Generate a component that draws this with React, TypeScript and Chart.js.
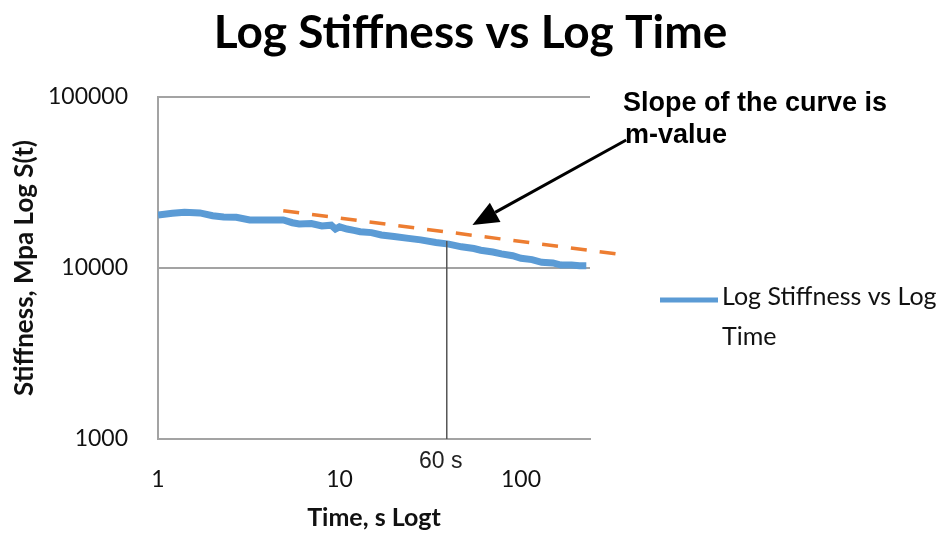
import React, { useEffect, useRef } from "react";
import { Chart, registerables } from "chart.js";

Chart.register(...registerables);

// ---- data ----
const TIMES = [1, 1.2, 1.4, 1.7, 2, 2.3, 2.7, 3.2, 4, 4.9, 5.5, 6, 7, 8, 9, 9.5, 10, 11, 12, 13, 15, 17, 20, 24, 28, 34, 40, 47, 55, 60, 70, 78, 90, 100, 115, 130, 150, 166, 190, 210, 229];
const STIFFNESS = [20400, 20900, 21200, 21000, 20200, 19900, 19800, 19100, 19100, 19100, 18400, 18100, 18200, 17600, 17800, 16900, 17400, 16900, 16600, 16300, 16100, 15600, 15300, 14900, 14600, 14100, 13800, 13300, 13000, 12700, 12400, 12100, 11800, 11400, 11200, 10800, 10700, 10400, 10400, 10300, 10300];

const TREND_TIMES = [4.9, 335];
const TREND_STIFFNESS = [21600, 12100];

const MARKER_TIMES = [39, 39];
const MARKER_STIFFNESS = [1000, 14400];
const MARKER_LABEL = "60 s";

const ARROW_TIMES = [380, 54];
const ARROW_STIFFNESS = [56000, 17850];
const NOTE_LINES = ["Slope of the curve is", "m-value"];

const X_TICKS = [1, 10, 100];
const Y_TICKS = [1000, 10000, 100000];
const X_RANGE = [1, 240];
const Y_RANGE = [1000, 100000];

const TITLE = "Log Stiffness vs Log Time";
const SERIES_NAME = "Log Stiffness vs Log Time";
const LEGEND_LINES = ["Log Stiffness vs Log", "Time"];
const X_TITLE = "Time, s Logt";
const Y_TITLE = "Stiffness, Mpa Log S(t)";

const BLUE = "#5b9bd5";
const ORANGE = "#ed7d31";
const GRID = "#a3a3a3";

const overlayPlugin = {
  id: "overlay",
  afterDatasetsDraw(chart: any) {
    const { ctx, chartArea, scales, width } = chart;
    const xs = scales.x;
    const ys = scales.y;
    ctx.save();

    // title
    ctx.font = 'bold 46px Lato, sans-serif';
    ctx.textAlign = "center";
    ctx.textBaseline = "alphabetic";
    ctx.fillStyle = "#000";
    ctx.fillText(TITLE, width / 2 - 2, 48);

    // arrow
    const x0 = xs.getPixelForValue(ARROW_TIMES[0]);
    const y0 = ys.getPixelForValue(ARROW_STIFFNESS[0]);
    const x1 = xs.getPixelForValue(ARROW_TIMES[1]);
    const y1 = ys.getPixelForValue(ARROW_STIFFNESS[1]);
    const ang = Math.atan2(y1 - y0, x1 - x0);
    const headLen = 26;
    const headHalf = 11;
    const bx = x1 - headLen * Math.cos(ang);
    const by = y1 - headLen * Math.sin(ang);
    ctx.strokeStyle = "#000";
    ctx.fillStyle = "#000";
    ctx.lineWidth = 3;
    ctx.beginPath();
    ctx.moveTo(x0, y0);
    ctx.lineTo(bx, by);
    ctx.stroke();
    ctx.beginPath();
    ctx.moveTo(x1, y1);
    ctx.lineTo(bx + headHalf * Math.sin(ang), by - headHalf * Math.cos(ang));
    ctx.lineTo(bx - headHalf * Math.sin(ang), by + headHalf * Math.cos(ang));
    ctx.closePath();
    ctx.fill();

    // note text
    ctx.font = 'bold 27px "Liberation Sans", Arial, sans-serif';
    ctx.textAlign = "left";
    ctx.textBaseline = "alphabetic";
    ctx.fillStyle = "#000";
    ctx.fillText(NOTE_LINES[0], chartArea.right + 33, chartArea.top + 14);
    ctx.fillText(NOTE_LINES[1], chartArea.right + 35, chartArea.top + 46);

    // marker label
    const mx = xs.getPixelForValue(MARKER_TIMES[0]);
    ctx.font = '23px "Liberation Sans", Arial, sans-serif';
    ctx.textAlign = "center";
    ctx.textBaseline = "middle";
    ctx.fillStyle = "#222";
    ctx.fillText(MARKER_LABEL, mx - 6, chartArea.bottom + 23);

    // legend
    const lx = chartArea.right + 70;
    const ly = 300;
    ctx.strokeStyle = BLUE;
    ctx.lineWidth = 5;
    ctx.beginPath();
    ctx.moveTo(lx, ly);
    ctx.lineTo(lx + 58, ly);
    ctx.stroke();
    ctx.font = '25px Lato, sans-serif';
    ctx.textAlign = "left";
    ctx.textBaseline = "middle";
    ctx.fillStyle = "#111";
    ctx.fillText(LEGEND_LINES[0], lx + 62, ly - 3);
    ctx.fillText(LEGEND_LINES[1], lx + 62, ly + 37);

    ctx.restore();
  },
};

export default function App() {
  const ref = useRef<HTMLCanvasElement | null>(null);

  useEffect(() => {
    const canvas = ref.current;
    if (!canvas) return;
    const chart = new Chart(canvas, {
      type: "line",
      data: {
        datasets: [
          {
            label: SERIES_NAME,
            data: TIMES.map((t, i) => ({ x: t, y: STIFFNESS[i] })),
            borderColor: BLUE,
            backgroundColor: BLUE,
            borderWidth: 7,
            pointRadius: 0,
            tension: 0,
            order: 2,
          },
          {
            label: "trend",
            data: TREND_TIMES.map((t, i) => ({ x: t, y: TREND_STIFFNESS[i] })),
            borderColor: ORANGE,
            borderWidth: 3.5,
            borderDash: [16, 13],
            pointRadius: 0,
            clip: false as any,
            order: 1,
          },
          {
            label: "marker",
            data: MARKER_TIMES.map((t, i) => ({ x: t, y: MARKER_STIFFNESS[i] })),
            borderColor: "#555",
            borderWidth: 1.5,
            pointRadius: 0,
            order: 0,
          },
        ],
      },
      options: {
        animation: false,
        responsive: false,
        layout: { padding: { left: 0, right: 355, top: 97, bottom: 0 } },
        plugins: {
          legend: { display: false },
          tooltip: { enabled: false },
          title: { display: false },
        },
        scales: {
          x: {
            type: "logarithmic",
            min: X_RANGE[0],
            max: X_RANGE[1],
            afterBuildTicks: (s: any) => {
              s.ticks = X_TICKS.map((v) => ({ value: v }));
            },
            afterFit: (s: any) => {
              s.height = 98;
            },
            ticks: {
              callback: (v: any) => String(v),
              color: "#111",
              font: { family: "Lato", size: 23 },
              padding: 27,
              maxRotation: 0,
              autoSkip: false,
            },
            grid: { display: false, drawTicks: false },
            border: { display: true, color: GRID, width: 2 },
            title: {
              display: true,
              text: X_TITLE,
              color: "#111",
              font: { family: "Lato", size: 25, weight: "bold" },
              padding: { top: 0, bottom: 4 },
            },
          },
          y: {
            type: "logarithmic",
            min: Y_RANGE[0],
            max: Y_RANGE[1],
            afterBuildTicks: (s: any) => {
              s.ticks = Y_TICKS.map((v) => ({ value: v }));
            },
            afterFit: (s: any) => {
              s.width = 158;
            },
            ticks: {
              callback: (v: any) => String(v),
              color: "#111",
              font: { family: "Lato", size: 23 },
              padding: 30,
              autoSkip: false,
            },
            grid: { color: GRID, lineWidth: 2, drawTicks: false },
            border: { display: true, color: GRID, width: 2 },
            title: {
              display: true,
              text: Y_TITLE,
              color: "#111",
              font: { family: "Lato", size: 26, weight: "bold" },
              padding: { top: 9, bottom: 4 },
            },
          },
        },
      },
      plugins: [overlayPlugin],
    });
    return () => chart.destroy();
  }, []);

  return (
    <div style={{ position: "absolute", left: 0, top: 0, width: 945, height: 537, background: "#fff" }}>
      <canvas ref={ref} width={945} height={537} />
    </div>
  );
}
